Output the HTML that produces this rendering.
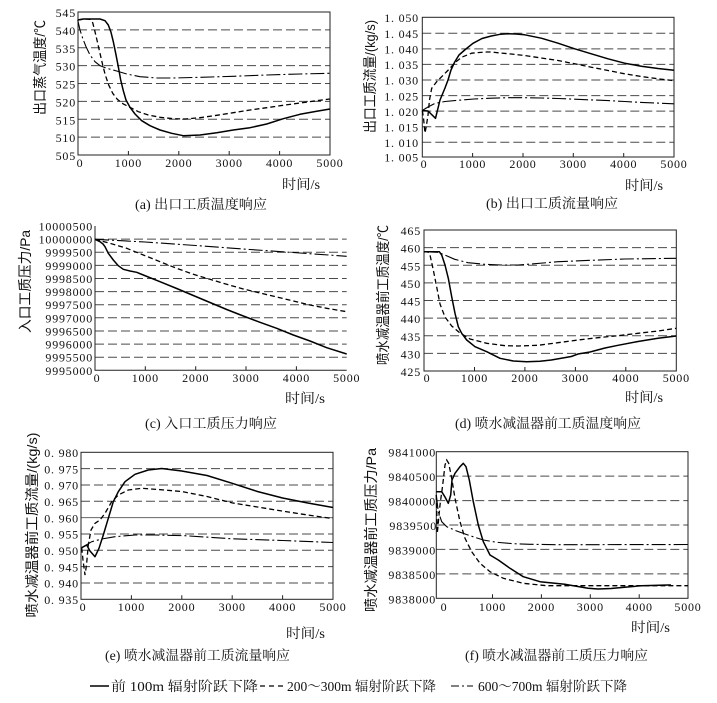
<!DOCTYPE html>
<html><head><meta charset="utf-8"><style>
html,body{margin:0;padding:0;background:#fff;}
svg{display:block;}
.tk{font-family:"Liberation Serif","Noto Serif CJK SC",serif;font-size:12px;letter-spacing:0.8px;fill:#111;}
.ttl{font-family:"Liberation Sans","Noto Sans CJK SC",sans-serif;font-size:14px;fill:#111;}
.cap{font-family:"Liberation Serif","Noto Serif CJK SC",serif;font-size:13.5px;fill:#111;}
.g{stroke:#4a4a4a;stroke-width:1;stroke-dasharray:9,4;fill:none;}
.fr{stroke:#222;stroke-width:1;fill:none;}
.s{stroke:#000;stroke-width:1.5;fill:none;stroke-linejoin:round;}
.d{stroke:#000;stroke-width:1.3;fill:none;stroke-dasharray:5,3;}
.dd{stroke:#000;stroke-width:1.1;fill:none;stroke-dasharray:14,3,2,3;}
</style></head><body>
<svg width="717" height="703" viewBox="0 0 717 703" xmlns="http://www.w3.org/2000/svg">

<!-- ===== (a) ===== -->
<g>
<line class="g" x1="78" y1="29.9" x2="330" y2="29.9"/>
<line class="g" x1="78" y1="47.75" x2="330" y2="47.75"/>
<line class="g" x1="78" y1="65.6" x2="330" y2="65.6"/>
<line class="g" x1="78" y1="83.5" x2="330" y2="83.5"/>
<line class="g" x1="78" y1="101.4" x2="330" y2="101.4"/>
<line class="g" x1="78" y1="119.25" x2="330" y2="119.25"/>
<line class="g" x1="78" y1="137.1" x2="330" y2="137.1"/>
<rect class="fr" x="78" y="12" width="252" height="143"/>
<path class="fr" d="M128.4,155v-4M178.8,155v-4M229.2,155v-4M279.6,155v-4"/>
<g class="tk" text-anchor="end">
<text x="76" y="17">545</text><text x="76" y="34.9">540</text><text x="76" y="52.8">535</text><text x="76" y="70.6">530</text><text x="76" y="88.5">525</text><text x="76" y="106.4">520</text><text x="76" y="124.3">515</text><text x="76" y="142.1">510</text><text x="76" y="160">505</text>
</g>
<g class="tk" text-anchor="middle">
<text x="80" y="167">0</text><text x="128.4" y="167">1000</text><text x="178.8" y="167">2000</text><text x="229.2" y="167">3000</text><text x="279.6" y="167">4000</text><text x="330" y="167">5000</text>
</g>
<text class="ttl" transform="translate(40,67.5) rotate(-90)" text-anchor="middle" dominant-baseline="central" textLength="95" lengthAdjust="spacingAndGlyphs">出口蒸气温度/℃</text>
<text class="cap" x="282" y="189" textLength="38" lengthAdjust="spacingAndGlyphs">时间/s</text>
<text class="cap" x="201" y="209" text-anchor="middle" textLength="132" lengthAdjust="spacingAndGlyphs">(a) 出口工质温度响应</text>
<polyline class="s" points="77.7,20 83.3,19 100,19 105,20.7 108.3,25 111,32.3 113.3,41.7 115.7,53.3 118.3,66.7 120.7,80 123.3,90.7 126,100 130,107.3 135,114 141.7,120.7 150,125.7 160,130 171.7,133.3 183.3,135.7 200,135 216.7,132.7 233.3,130 250,127.7 266.7,124 283.3,118.7 300,114.3 316.7,111.3 330,109"/>
<polyline class="d" points="77.7,20 85,19 90,19.3 92.7,22.7 95,31.7 97.7,43.3 100,53.3 102.7,65 105.3,75 108.7,85 112.7,93.3 117.3,99.3 123.3,104 130,107.3 138.3,111.7 148.3,115 160,117.3 173.3,118.7 185,119 200,117.7 216.7,115.3 233.3,112.7 250,110 266.7,107.7 283.3,105.3 300,103 316.7,100.7 330,99"/>
<polyline class="dd" points="77.7,20 80,30 82.7,38.3 86,46.7 90,55 95,61.7 100,65.7 106.7,68.3 116.7,71 126.7,74 140,76.7 156.7,78 173.3,78 200,77.3 233.3,76.3 266.7,75 300,74 330,73.3"/>
</g>

<!-- ===== (b) ===== -->
<g>
<line class="g" x1="422.3" y1="33.3" x2="674" y2="33.3"/>
<line class="g" x1="422.3" y1="48.9" x2="674" y2="48.9"/>
<line class="g" x1="422.3" y1="64.4" x2="674" y2="64.4"/>
<line class="g" x1="422.3" y1="80" x2="674" y2="80"/>
<line class="g" x1="422.3" y1="95.6" x2="674" y2="95.6"/>
<line class="g" x1="422.3" y1="111.1" x2="674" y2="111.1"/>
<line class="g" x1="422.3" y1="126.7" x2="674" y2="126.7"/>
<line class="g" x1="422.3" y1="142.3" x2="674" y2="142.3"/>
<rect class="fr" x="422.3" y="17.3" width="251.7" height="139.7"/>
<path class="fr" d="M472.6,157v-4M523,157v-4M573.3,157v-4M623.7,157v-4"/>
<g class="tk" text-anchor="end">
<text x="419" y="22">1. 050</text><text x="419" y="38">1. 045</text><text x="419" y="53.6">1. 040</text><text x="419" y="69.1">1. 035</text><text x="419" y="84.7">1. 030</text><text x="419" y="100.3">1. 025</text><text x="419" y="115.8">1. 020</text><text x="419" y="131.4">1. 015</text><text x="419" y="147">1. 010</text><text x="419" y="161.7">1. 005</text>
</g>
<g class="tk" text-anchor="middle">
<text x="424" y="168">0</text><text x="472.6" y="168">1000</text><text x="523" y="168">2000</text><text x="573.3" y="168">3000</text><text x="623.7" y="168">4000</text><text x="674" y="168">5000</text>
</g>
<text class="ttl" transform="translate(370,76.5) rotate(-90)" text-anchor="middle" dominant-baseline="central" textLength="113" lengthAdjust="spacingAndGlyphs">出口工质流量/(kg/s)</text>
<text class="cap" x="625" y="190" textLength="38" lengthAdjust="spacingAndGlyphs">时间/s</text>
<text class="cap" x="552" y="208" text-anchor="middle" textLength="132" lengthAdjust="spacingAndGlyphs">(b) 出口工质流量响应</text>
<polyline class="s" points="422.3,110.5 428,111 435.5,118.3 440,100 445,88 448,80 451,70 454.7,62 459,55 464.7,50 473,43.3 482,38.5 491.3,36 500,34.3 508,33.8 516,34 524.7,34.8 541.3,38.2 558,43.2 574.7,48.8 591.3,53.8 608,58.8 624.7,63.2 641.3,66.2 658,68.5 674,70.3"/>
<polyline class="d" points="422.3,110.5 423.5,118 425,133 426.5,125 428,115 429.5,100 431.7,88.3 436.7,81.7 441.7,76.7 448.3,70 454.3,63.3 461.7,57.2 471.7,53.2 485,52 491.3,52 498.3,52.8 511,54 524.7,55.5 541.3,58 558,60.5 574.7,63.8 591.3,67.2 608,70.5 624.7,73.8 641.3,76.5 658,78.8 674,80.7"/>
<polyline class="dd" points="422.3,110.5 428,107 434.7,103.5 445,101.5 458,100.3 474,99 491.3,98.2 508,97.7 524.7,97.7 541.3,98 558,98.5 574.7,99.2 591.3,99.9 608,100.6 624.7,101.5 641.3,102.4 658,103.1 674,103.8"/>
</g>

<!-- ===== (c) ===== -->
<g>
<line class="g" x1="95" y1="239.1" x2="346.7" y2="239.1"/>
<line class="g" x1="95" y1="252.2" x2="346.7" y2="252.2"/>
<line class="g" x1="95" y1="265.4" x2="346.7" y2="265.4"/>
<line class="g" x1="95" y1="278.5" x2="346.7" y2="278.5"/>
<line class="g" x1="95" y1="291.6" x2="346.7" y2="291.6"/>
<line class="g" x1="95" y1="304.7" x2="346.7" y2="304.7"/>
<line class="g" x1="95" y1="317.8" x2="346.7" y2="317.8"/>
<line class="g" x1="95" y1="331" x2="346.7" y2="331"/>
<line class="g" x1="95" y1="344.1" x2="346.7" y2="344.1"/>
<line class="g" x1="95" y1="357.2" x2="346.7" y2="357.2"/>
<path class="fr" d="M95,226V370.3H346.7"/>
<path class="fr" d="M145.3,370.3v-4M195.7,370.3v-4M246,370.3v-4M296.4,370.3v-4"/>
<g class="tk" text-anchor="end">
<text x="93" y="230.5">10000500</text><text x="93" y="243.6">10000000</text><text x="93" y="256.7">9999500</text><text x="93" y="269.9">9999000</text><text x="93" y="283">9998500</text><text x="93" y="296.1">9998000</text><text x="93" y="309.2">9997500</text><text x="93" y="322.3">9997000</text><text x="93" y="335.5">9996500</text><text x="93" y="348.6">9996000</text><text x="93" y="361.7">9995500</text><text x="93" y="374.8">9995000</text>
</g>
<g class="tk" text-anchor="middle">
<text x="97" y="382">0</text><text x="145.3" y="382">1000</text><text x="195.7" y="382">2000</text><text x="246" y="382">3000</text><text x="296.4" y="382">4000</text><text x="346.7" y="382">5000</text>
</g>
<text class="ttl" transform="translate(25,281.5) rotate(-90)" text-anchor="middle" dominant-baseline="central" textLength="103" lengthAdjust="spacingAndGlyphs">入口工质压力/Pa</text>
<text class="cap" x="285" y="403" textLength="40" lengthAdjust="spacingAndGlyphs">时间/s</text>
<text class="cap" x="211" y="428" text-anchor="middle" textLength="132" lengthAdjust="spacingAndGlyphs">(c) 入口工质压力响应</text>
<polyline class="s" points="95,239.3 100,241.7 103,244 105,246.7 108.3,253.3 113.3,260 118.3,265.7 123.3,269.3 130,271 136.7,272.3 143.3,275 160,281.7 176.7,288.5 193.3,295.5 210,302.5 226.7,309.5 243.3,316 260,322.3 276.7,328.3 293.3,335 310,341 326.7,347.7 346.7,354"/>
<polyline class="d" points="95,239.3 110,243.3 126.7,248.3 143.3,255 160,261.7 176.7,268.3 193.3,274.3 210,279.3 226.7,284.3 243.3,289 260,293 276.7,297 293.3,301 310,305 326.7,308.3 346.7,311.7"/>
<polyline class="dd" points="95,239.3 145,242 195.7,245.5 250,249.5 300,253 346.7,256.3"/>
</g>

<!-- ===== (d) ===== -->
<g>
<line class="g" x1="424" y1="247.6" x2="676.3" y2="247.6"/>
<line class="g" x1="424" y1="265.3" x2="676.3" y2="265.3"/>
<line class="g" x1="424" y1="282.9" x2="676.3" y2="282.9"/>
<line class="g" x1="424" y1="300.5" x2="676.3" y2="300.5"/>
<line class="g" x1="424" y1="318.1" x2="676.3" y2="318.1"/>
<line class="g" x1="424" y1="335.8" x2="676.3" y2="335.8"/>
<line class="g" x1="424" y1="353.4" x2="676.3" y2="353.4"/>
<rect class="fr" x="424" y="230" width="252.3" height="141"/>
<path class="fr" d="M474.5,371v-4M524.9,371v-4M575.4,371v-4M625.8,371v-4"/>
<g class="tk" text-anchor="end">
<text x="421" y="235">465</text><text x="421" y="252.6">460</text><text x="421" y="270.3">455</text><text x="421" y="287.9">450</text><text x="421" y="305.5">445</text><text x="421" y="323.1">440</text><text x="421" y="340.8">435</text><text x="421" y="358.4">430</text><text x="421" y="376">425</text>
</g>
<g class="tk" text-anchor="middle">
<text x="427" y="382">0</text><text x="474.5" y="382">1000</text><text x="524.9" y="382">2000</text><text x="575.4" y="382">3000</text><text x="625.8" y="382">4000</text><text x="676.3" y="382">5000</text>
</g>
<text class="ttl" transform="translate(383,295) rotate(-90)" text-anchor="middle" dominant-baseline="central" textLength="140" lengthAdjust="spacingAndGlyphs">喷水减温器前工质温度/℃</text>
<text class="cap" x="625" y="402" textLength="38" lengthAdjust="spacingAndGlyphs">时间/s</text>
<text class="cap" x="548" y="428" text-anchor="middle" textLength="186" lengthAdjust="spacingAndGlyphs">(d) 喷水减温器前工质温度响应</text>
<polyline class="s" points="424,251.7 439.3,251.7 441.7,255 445,265 448.3,278.3 451.7,296.7 455,313.3 458.3,326.7 461.7,333.3 466.7,340 475,346.7 486.7,351.7 500,358.3 513.3,361 526.7,361.7 540,361.3 551.3,360 571.3,356.5 578,354 590,352 605,348 618,345.3 638,341.5 658,338.3 676.3,336"/>
<polyline class="d" points="424,251.7 428,252 430,255 433.3,270 436.7,287 440,304 445,317 451.7,326 460,333 470,339 486.7,343.3 505,345.7 518,346 538,345.3 558,342.7 578,340 598,337.7 618,335.7 638,333.3 658,331 676.3,328.3"/>
<polyline class="dd" points="424,251.7 438,252.3 444.7,255 454.7,259.3 468,262.7 484.7,264.3 501.3,265 518,265 531.3,264 558,261.7 591.3,260.3 624.7,259 676.3,258.3"/>
</g>

<!-- ===== (e) ===== -->
<g>
<line class="g" x1="81" y1="468.6" x2="333" y2="468.6"/>
<line class="g" x1="81" y1="485" x2="333" y2="485"/>
<line class="g" x1="81" y1="501.3" x2="333" y2="501.3"/>
<line x1="81" y1="517.6" x2="333" y2="517.6" stroke="#666" stroke-width="1"/>
<line class="g" x1="81" y1="534" x2="333" y2="534"/>
<line class="g" x1="81" y1="550.3" x2="333" y2="550.3"/>
<line class="g" x1="81" y1="566.6" x2="333" y2="566.6"/>
<line class="g" x1="81" y1="583" x2="333" y2="583"/>
<rect class="fr" x="81" y="452.3" width="252" height="147"/>
<path class="fr" d="M131.4,599.3v-4M181.8,599.3v-4M232.2,599.3v-4M282.6,599.3v-4"/>
<g class="tk" text-anchor="end">
<text x="79" y="457">0. 980</text><text x="79" y="473.3">0. 975</text><text x="79" y="489.7">0. 970</text><text x="79" y="506">0. 965</text><text x="79" y="522.3">0. 960</text><text x="79" y="538.7">0. 955</text><text x="79" y="555">0. 950</text><text x="79" y="571.3">0. 945</text><text x="79" y="587.7">0. 940</text><text x="79" y="604">0. 935</text>
</g>
<g class="tk" text-anchor="middle">
<text x="83" y="611">0</text><text x="131.4" y="611">1000</text><text x="181.8" y="611">2000</text><text x="232.2" y="611">3000</text><text x="282.6" y="611">4000</text><text x="333" y="611">5000</text>
</g>
<text class="ttl" transform="translate(32,525) rotate(-90)" text-anchor="middle" dominant-baseline="central" textLength="185" lengthAdjust="spacingAndGlyphs">喷水减温器前工质流量/(kg/s)</text>
<text class="cap" x="286" y="638" textLength="39" lengthAdjust="spacingAndGlyphs">时间/s</text>
<text class="cap" x="197.5" y="660" text-anchor="middle" textLength="185" lengthAdjust="spacingAndGlyphs">(e) 喷水减温器前工质流量响应</text>
<polyline class="s" points="81.7,547.7 86.7,545 90,551 95,556.7 99,548.3 103.3,535 108.3,518.3 113.3,501.7 118.3,491.7 125,481.7 135,474.3 148.3,470 161.7,468.5 181.7,471 207,475.5 232.2,483.3 257.4,491.5 282.6,498 307.8,503 333,507.5"/>
<polyline class="d" points="81.7,547.7 83,560 85,575 86.5,565 88.3,545 91,530 95,523.3 100,520 105,513.3 111.7,501.7 118.3,495 128.3,490 141.7,488.3 158.3,489.5 181.7,491.5 207,496.5 232.2,502.9 257.4,507 282.6,511.1 307.8,515 333,518.6"/>
<polyline class="dd" points="81.7,547.7 91.7,541.7 101.7,539 115,536.7 135,535 155,535 185,535.7 232.2,538.8 282.6,540.5 333,542.5"/>
</g>

<!-- ===== (f) ===== -->
<g>
<line class="g" x1="436.3" y1="476.1" x2="688" y2="476.1"/>
<line class="g" x1="436.3" y1="500.6" x2="688" y2="500.6"/>
<line class="g" x1="436.3" y1="525" x2="688" y2="525"/>
<line class="g" x1="436.3" y1="549.4" x2="688" y2="549.4"/>
<line class="g" x1="436.3" y1="573.9" x2="688" y2="573.9"/>
<rect class="fr" x="436.3" y="451.7" width="251.7" height="146.6"/>
<path class="fr" d="M492.5,598.3v-4M541.4,598.3v-4M590.3,598.3v-4M639.2,598.3v-4"/>
<g class="tk" text-anchor="end">
<text x="436" y="456.7">9841000</text><text x="436" y="481.1">9840500</text><text x="436" y="505.6">9840000</text><text x="437" y="530">9839500</text><text x="436" y="554.4">9839000</text><text x="436" y="578.9">9838500</text><text x="436" y="603.3">9838000</text>
</g>
<g class="tk" text-anchor="middle">
<text x="444" y="611">0</text><text x="492.5" y="611">1000</text><text x="541.4" y="611">2000</text><text x="590.3" y="611">3000</text><text x="639.2" y="611">4000</text><text x="688" y="611">5000</text>
</g>
<text class="ttl" transform="translate(371,530) rotate(-90)" text-anchor="middle" dominant-baseline="central" textLength="164" lengthAdjust="spacingAndGlyphs">喷水减温器前工质压力/Pa</text>
<text class="cap" x="631" y="632" textLength="39" lengthAdjust="spacingAndGlyphs">时间/s</text>
<text class="cap" x="556.5" y="660" text-anchor="middle" textLength="183" lengthAdjust="spacingAndGlyphs">(f) 喷水减温器前工质压力响应</text>
<polyline class="s" points="436.3,491.7 441.7,491.7 445,497 448.3,503.3 450.7,495 452,480 455,473.3 460,466.7 463.3,463.3 466,466.7 469.3,480 473.3,501.7 478.3,525 483.3,541.7 490,555 498.3,560 510,568.3 523.3,576.7 540,581.7 564.7,584.3 588,588.3 598,589 611,588.5 624.7,587.3 641.3,585.7 668,585 671,585"/>
<polyline class="d" points="436.3,495 437.3,533.3 440,505 442.7,485 445,465 446.7,460 448.7,463.3 451.7,478.3 455,498.3 460,521.7 465,538.3 471.7,551.7 480,563.3 490,571.7 503.3,578.3 523.3,583.3 546.7,585.7 688,585.7"/>
<polyline class="dd" points="436.3,495 438.3,511.7 441.7,521.7 446.7,526.7 456.7,531 470,535.7 483.3,540 496.7,542.3 513.3,543.7 530,544.3 560,544.7 688,544.5"/>
</g>

<!-- ===== legend ===== -->
<g>
<line x1="90" y1="686" x2="109" y2="686" stroke="#000" stroke-width="1.5"/>
<text class="cap" x="111" y="691" textLength="147" lengthAdjust="spacingAndGlyphs">前 100m 辐射阶跃下降</text>
<line x1="260" y1="686" x2="283" y2="686" stroke="#000" stroke-width="1.3" stroke-dasharray="5,4"/>
<text class="cap" x="287" y="691" textLength="149" lengthAdjust="spacingAndGlyphs">200～300m 辐射阶跃下降</text>
<line x1="451" y1="686" x2="473" y2="686" stroke="#000" stroke-width="1.1" stroke-dasharray="8,3,2,3"/>
<text class="cap" x="478" y="691" textLength="149" lengthAdjust="spacingAndGlyphs">600～700m 辐射阶跃下降</text>
</g>
</svg>
</body></html>
